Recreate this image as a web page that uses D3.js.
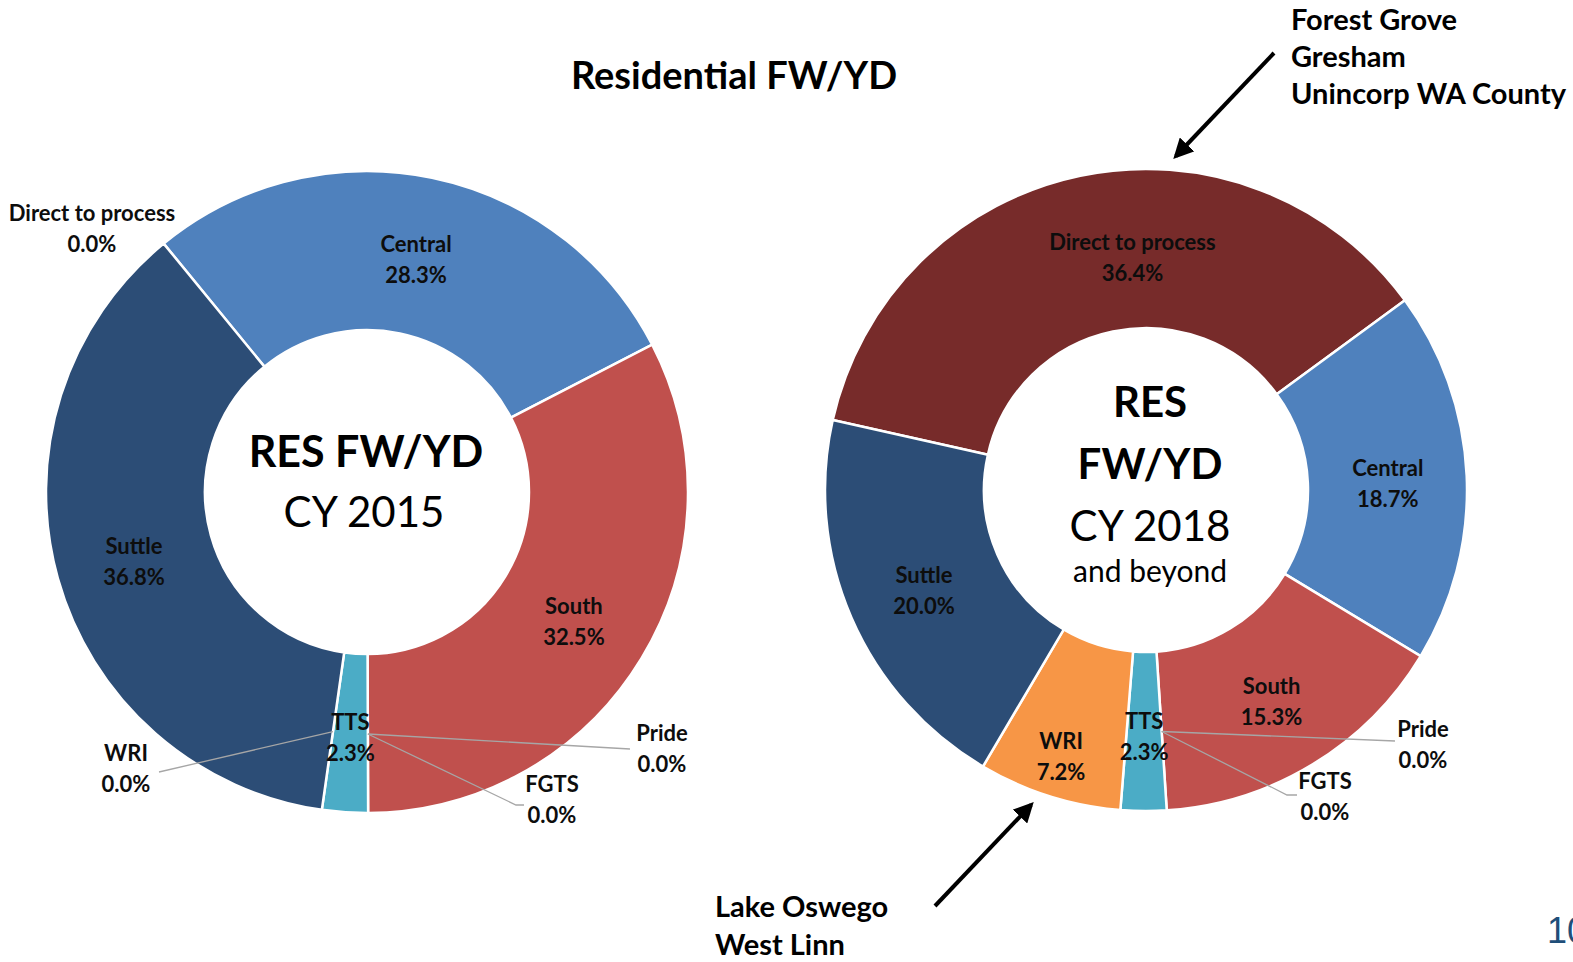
<!DOCTYPE html>
<html>
<head>
<meta charset="utf-8">
<script src="https://cdnjs.cloudflare.com/ajax/libs/d3/7.8.5/d3.min.js"></script>
<style>
  body { margin: 0; background: #fff; overflow: hidden; }
  svg { display: block; font-family: Lato, "Open Sans", sans-serif; }
</style>
</head>
<body>
<div class="chart"></div>
<script>
// Data (percent of residential FW/YD tons by facility)
const categories = ["Direct to process", "Central", "South", "Pride", "FGTS", "TTS", "WRI", "Suttle"];
const share2015 = [0.0, 28.3, 32.5, 0.0, 0.0, 2.3, 0.0, 36.8];
const share2018 = [36.4, 18.7, 15.3, 0.0, 0.0, 2.3, 7.2, 20.0];
const sliceColors = ["#772b2a", "#4f81bd", "#c0504d", "#8064a2", "#9bbb59", "#4bacc6", "#f79646", "#2c4d76"];
const centerText2015 = ["RES FW/YD", "CY 2015"];
const centerText2018 = ["RES", "FW/YD", "CY 2018", "and beyond"];
const chartTitle = "Residential FW/YD";
const noteTop = ["Forest Grove", "Gresham", "Unincorp WA County"];
const noteBottom = ["Lake Oswego", "West Linn"];

const w = 1573, h = 962;
const svg = d3.select(".chart")
    .append("svg")
        .attr("width", w)
        .attr("height", h);

const color = d3.scaleOrdinal().domain(categories).range(sliceColors);
const fmt = v => d3.format(".1f")(v) + "%";
const deg = a => a * Math.PI / 180;

// arrow head
svg.append("defs").append("marker")
    .attr("id", "head")
    .attr("viewBox", "0 0 10 10")
    .attr("refX", 8).attr("refY", 5)
    .attr("markerWidth", 5).attr("markerHeight", 5)
    .attr("orient", "auto")
  .append("path")
    .attr("d", "M0,0L10,5L0,10z")
    .attr("fill", "#000");

// title
svg.append("text")
    .attr("x", 734).attr("y", 89)
    .attr("text-anchor", "middle")
    .style("font-size", "38px")
    .style("font-weight", "bold")
    .text(chartTitle);

// one donut
function drawDonut(cx, cy, values, start, outside, nudge) {
    const g = svg.append("g").attr("transform", `translate(${cx},${cy})`);
    const pie = d3.pie().sort(null).value(d => d.v)
        .startAngle(deg(start)).endAngle(deg(start) + 2 * Math.PI);
    const arcs = pie(categories.map((c, i) => ({name: c, v: values[i]})));
    const arc = d3.arc().innerRadius(162).outerRadius(321);
    const mid = d3.arc().innerRadius(242).outerRadius(242);

    g.selectAll("path.slice")
        .data(arcs.filter(d => d.data.v > 0))
        .join("path")
            .attr("class", "slice")
            .attr("d", arc)
            .attr("fill", d => color(d.data.name))
            .attr("stroke", "#fff")
            .attr("stroke-width", 2.5);

    // leader lines for labels moved outside
    arcs.forEach(d => {
        const o = outside[d.data.name];
        if (!o || !o.leader) return;
        const p = mid.centroid(d);
        const pts = [p].concat(o.leader.map(q => [q[0] - cx, q[1] - cy]));
        g.append("path")
            .attr("d", d3.line()(pts))
            .attr("fill", "none")
            .attr("stroke", "#a6a6a6")
            .attr("stroke-width", 1.3);
    });

    arcs.forEach(d => {
        let x, y;
        const o = outside[d.data.name];
        if (o) { x = o.x - cx; y = o.y - cy; }
        else {
            [x, y] = mid.centroid(d);
            y += 4;
            const n = nudge[d.data.name];
            if (n) { x += n[0]; y += n[1]; }
        }
        const t = g.append("text")
            .attr("text-anchor", "middle")
            .style("font-size", "22px")
            .style("font-weight", "bold")
            .attr("fill", "#0d0d0d");
        t.append("tspan").attr("x", x).attr("y", y - 15).attr("dy", "0.36em").text(d.data.name);
        t.append("tspan").attr("x", x).attr("y", y + 16).attr("dy", "0.36em").text(fmt(d.data.v));
    });
    return g;
}

drawDonut(367, 492, share2015, -39.3, {
    "Direct to process": {x: 92, y: 228},
    "WRI": {x: 126, y: 768, leader: [[159, 772]]},
    "Pride": {x: 662, y: 748, leader: [[630, 749]]},
    "FGTS": {x: 552, y: 799, leader: [[516, 805], [524, 805]]}
}, {});

drawDonut(1146, 490, share2018, -77.4, {
    "Pride": {x: 1423, y: 744, leader: [[1395, 741]]},
    "FGTS": {x: 1325, y: 796, leader: [[1287, 795], [1297, 795]]}
}, {
    "Direct to process": [36, 0],
    "WRI": [-12, 31]
});

// centre texts
const c1 = svg.append("g").attr("text-anchor", "middle").attr("fill", "#000");
c1.append("text").attr("x", 366).attr("y", 467).style("font-size", "43px").style("font-weight", "bold").text(centerText2015[0]);
c1.append("text").attr("x", 364).attr("y", 527).style("font-size", "42px").text(centerText2015[1]);

const c2 = svg.append("g").attr("text-anchor", "middle").attr("fill", "#000");
const c2y = [417, 479, 541, 582];
const c2size = [42, 42, 42, 30];
const c2bold = [true, true, false, false];
centerText2018.forEach((s, i) => {
    c2.append("text").attr("x", 1150).attr("y", c2y[i])
        .style("font-size", c2size[i] + "px")
        .style("font-weight", c2bold[i] ? "bold" : "normal")
        .text(s);
});

// annotations
const n1 = svg.append("text").style("font-size", "29px").style("font-weight", "bold");
noteTop.forEach((s, i) => n1.append("tspan").attr("x", 1291).attr("y", 30 + i * 37).text(s));
const n2 = svg.append("text").style("font-size", "29px").style("font-weight", "bold");
noteBottom.forEach((s, i) => n2.append("tspan").attr("x", 715).attr("y", 917 + i * 38).text(s));

svg.append("line")
    .attr("x1", 1274).attr("y1", 53).attr("x2", 1176).attr("y2", 156)
    .attr("stroke", "#000").attr("stroke-width", 4).attr("marker-end", "url(#head)");
svg.append("line")
    .attr("x1", 935).attr("y1", 906).attr("x2", 1031).attr("y2", 805)
    .attr("stroke", "#000").attr("stroke-width", 4).attr("marker-end", "url(#head)");

// page number, cut at the edge as in the slide
svg.append("text")
    .attr("x", 1547).attr("y", 943)
    .style("font-family", "Arial, 'Liberation Sans', sans-serif")
    .style("font-size", "36px")
    .attr("fill", "#1f4e79")
    .text("10");
</script>
</body>
</html>
